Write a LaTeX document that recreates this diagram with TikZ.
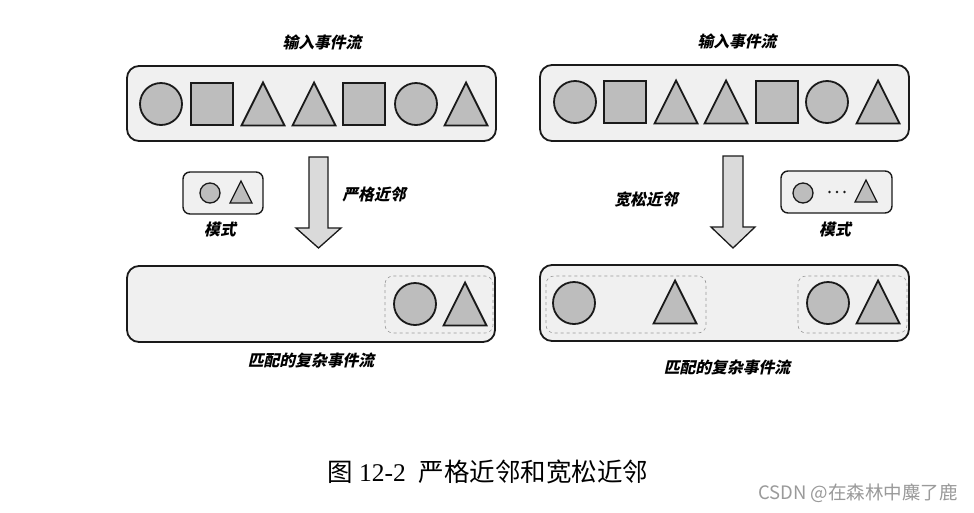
\documentclass[tikz,border=0pt]{standalone}
\usepackage{fontspec}
\setmainfont{Liberation Serif}
\newfontfamily\cjk{Noto Sans CJK SC}
\newfontfamily\cjkbi[FakeSlant=0.22]{Noto Sans CJK SC}
\definecolor{boxfill}{HTML}{F0F0F0}
\definecolor{shapefill}{HTML}{BDBDBD}
\definecolor{arrowfill}{HTML}{DADADA}
\definecolor{edge}{HTML}{1A1A1A}
\definecolor{wm}{HTML}{9A9A9A}
\tikzset{
  streambox/.style={draw=edge, fill=boxfill, line width=1.8pt, rounded corners=12pt},
  patbox/.style={draw=edge, fill=boxfill, line width=1.4pt, rounded corners=7pt},
  matchbox/.style={draw=gray!80, dashed, line width=0.6pt, rounded corners=8pt},
  evshape/.style={draw=edge, fill=shapefill, line width=1.8pt},
  bigcirc/.style={evshape, circle, minimum size=42pt, inner sep=0pt},
  bigsq/.style={evshape, rectangle, minimum size=42pt, inner sep=0pt},
  smallcirc/.style={evshape, line width=1.3pt, circle, minimum size=20pt, inner sep=0pt},
  dotmark/.style={circle, fill=edge, minimum size=2.6pt, inner sep=0pt},
  blockarrow/.style={draw=edge, fill=arrowfill, line width=1.3pt, line join=miter},
  lbl/.style={font=\cjkbi\bfseries\fontsize{15.8}{17}\selectfont, text=black, inner sep=0pt},
}
\newcommand\bigtri[2]{\draw[evshape, line join=miter] (#1-21.5,#2+21.5) -- (#1+21.5,#2+21.5) -- (#1,#2-21.5) -- cycle;}
\newcommand\smalltri[2]{\draw[evshape, line width=1.3pt, line join=miter] (#1-11,#2+11) -- (#1+11,#2+11) -- (#1,#2-11) -- cycle;}
\begin{document}
\begin{tikzpicture}[x=1pt,y=-1pt]
\useasboundingbox (0,0) rectangle (974,512);
\fill[white] (0,0) rectangle (974,512);

% ---------------- left panel ----------------
\node[lbl] (tL) at (322,42) {输入事件流};
\draw[streambox] (127,66) rectangle (496,141);
\node[bigcirc] (L1) at (161,104) {};
\node[bigsq] (L2) at (212,104) {};
\bigtri{263}{104}
\bigtri{314}{104}
\node[bigsq] (L5) at (364,104) {};
\node[bigcirc] (L6) at (416,104) {};
\bigtri{466}{104}

\draw[blockarrow] (309,157) -- (328,157) -- (328,228) -- (341,228) -- (318.5,248) -- (296,228) -- (309,228) -- cycle;
\node[lbl] (sL) at (374,194) {严格近邻};

\draw[patbox] (183,172) rectangle (263,214);
\node[smallcirc] (pL1) at (210,193) {};
\smalltri{241}{192}
\node[lbl] (mL) at (220,229) {模式};

\draw[streambox] (127,266) rectangle (495,342);
\draw[matchbox] (385,276) rectangle (493,333);
\node[bigcirc] (mL1) at (415,304) {};
\bigtri{465}{304}
\node[lbl] (cL) at (311,360) {匹配的复杂事件流};

% ---------------- right panel ----------------
\node[lbl] (tR) at (737,41) {输入事件流};
\draw[streambox] (540,65) rectangle (909,141);
\node[bigcirc] (R1) at (575,102) {};
\node[bigsq] (R2) at (625,102) {};
\bigtri{676}{102}
\bigtri{726}{102}
\node[bigsq] (R5) at (777,102) {};
\node[bigcirc] (R6) at (827,102) {};
\bigtri{878}{102}

\draw[blockarrow] (723,156) -- (743,156) -- (743,227) -- (755,227) -- (733,248) -- (711,227) -- (723,227) -- cycle;
\node[lbl] (sR) at (646,199) {宽松近邻};

\draw[patbox] (781,171) rectangle (892,213);
\node[smallcirc] (pR1) at (803,193) {};
\node[dotmark] (d1) at (829.5,192) {};
\node[dotmark] (d2) at (837,192) {};
\node[dotmark] (d3) at (844.5,192) {};
\smalltri{866}{191}
\node[lbl] (mR) at (835,229) {模式};

\draw[streambox] (540,265) rectangle (909,341);
\draw[matchbox] (546,276) rectangle (706,333);
\draw[matchbox] (798,276) rectangle (907,333);
\node[bigcirc] (mR1) at (574,303) {};
\bigtri{675}{302}
\node[bigcirc] (mR2) at (828,303) {};
\bigtri{878}{302}
\node[lbl] (cR) at (727,367) {匹配的复杂事件流};

% ---------------- caption & watermark ----------------
\node[anchor=west, inner sep=0pt, font=\fontsize{25.5}{27}\selectfont] (cap) at (327,472) {{\cjk 图} 12-2\ \ {\cjk 严格近邻和宽松近邻}};
\node[anchor=east, inner sep=0pt, text=wm, font=\cjk\fontsize{18.5}{20}\selectfont] (wmk) at (958,493) {CSDN @在森林中麋了鹿};
\end{tikzpicture}
\end{document}
